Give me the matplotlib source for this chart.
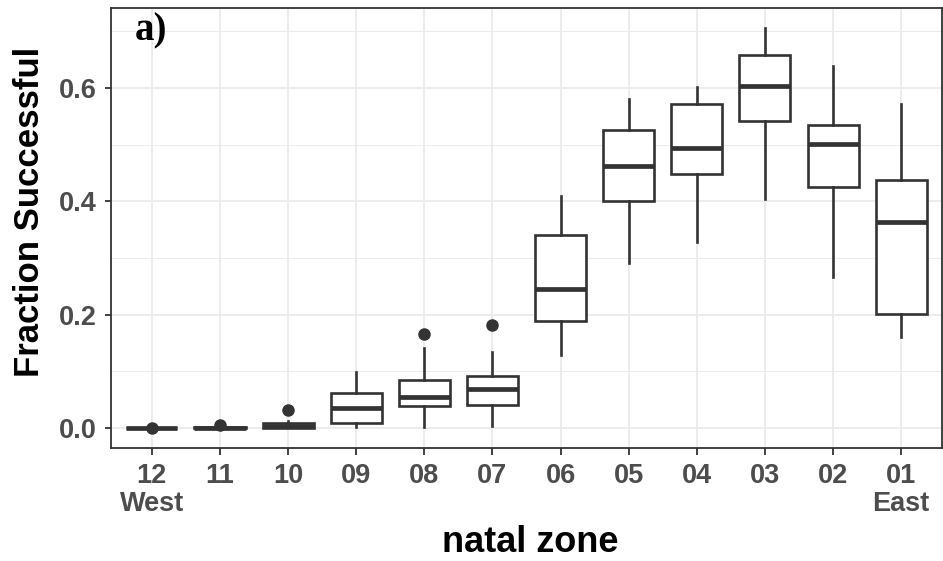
import numpy as np
import matplotlib
matplotlib.use("Agg")
import matplotlib.pyplot as plt
from matplotlib.ticker import MultipleLocator, FormatStrFormatter

# box statistics, west -> east
zones = ["12\nWest", "11", "10", "09", "08", "07", "06", "05", "04", "03", "02", "01\nEast"]
whis_lo = [0.000, 0.000, 0.000, 0.001, 0.001, 0.004, 0.129, 0.291, 0.328, 0.404, 0.267, 0.160]
q1 = [0.000, 0.000, 0.000, 0.009, 0.039, 0.040, 0.189, 0.400, 0.448, 0.542, 0.426, 0.202]
med = [0.000, 0.000, 0.004, 0.036, 0.055, 0.069, 0.246, 0.462, 0.494, 0.603, 0.501, 0.363]
q3 = [0.000, 0.002, 0.009, 0.061, 0.085, 0.092, 0.340, 0.526, 0.571, 0.658, 0.535, 0.437]
whis_hi = [0.000, 0.003, 0.013, 0.099, 0.142, 0.134, 0.410, 0.581, 0.602, 0.705, 0.639, 0.571]
outliers = [[0.0], [0.006], [0.032], [], [0.165], [0.182], [], [], [], [], [], []]

DARK = "#333333"
GRID = "#EBEBEB"
TICK = "#4D4D4D"

plt.rcParams["font.family"] = ["Liberation Sans", "DejaVu Sans"]

fig = plt.figure(figsize=(9.43, 5.61), dpi=100)
ax = fig.add_axes([0.1177, 0.2014, 0.8813, 0.7843])

stats = []
for i in range(len(zones)):
    stats.append({"whislo": whis_lo[i], "q1": q1[i], "med": med[i], "q3": q3[i],
                  "whishi": whis_hi[i], "fliers": outliers[i]})

pos = np.arange(1, len(zones) + 1)
ax.bxp(stats, positions=pos, widths=0.75, showcaps=False, patch_artist=True,
       boxprops=dict(facecolor="white", edgecolor=DARK, linewidth=1.9),
       medianprops=dict(color=DARK, linewidth=3.4, solid_capstyle="butt"),
       whiskerprops=dict(color=DARK, linewidth=1.9),
       flierprops=dict(marker="o", markerfacecolor=DARK, markeredgecolor=DARK,
                       markersize=8, linestyle="none"),
       zorder=3)

ax.set_xlim(0.4, len(zones) + 0.6)
ax.set_ylim(-0.0353, 0.741)
ax.set_xticks(pos)
ax.set_xticklabels(zones, fontsize=19.5, fontweight="bold", color=TICK, linespacing=1.1)
ax.yaxis.set_major_locator(MultipleLocator(0.2))
ax.yaxis.set_minor_locator(MultipleLocator(0.1))
ax.yaxis.set_major_formatter(FormatStrFormatter("%.1f"))
for lab in ax.get_yticklabels():
    lab.set_fontsize(19.5)
    lab.set_fontweight("bold")
    lab.set_color(TICK)

ax.grid(True, which="major", color=GRID, linewidth=1.3, zorder=0)
ax.grid(True, which="minor", axis="y", color=GRID, linewidth=0.7, zorder=0)
ax.set_axisbelow(True)
ax.tick_params(axis="y", which="major", length=4.5, width=1.3, color=DARK, pad=5.5)
ax.tick_params(axis="x", which="major", length=5, width=1.3, color=DARK, pad=5.5)
ax.tick_params(axis="y", which="minor", length=0)
for sp in ax.spines.values():
    sp.set_color(DARK)
    sp.set_linewidth(1.3)

ax.set_xlabel("natal zone", fontsize=26, fontweight="bold")
ax.set_ylabel("Fraction Successful", fontsize=25, fontweight="bold")
ax.xaxis.set_label_coords(0.505, -0.175)
ax.yaxis.set_label_coords(-0.078, 0.536)

ax.text(0.029, 0.927, "a)", transform=ax.transAxes, fontsize=28, fontweight="bold",
        family=["Liberation Serif", "DejaVu Serif"], va="baseline", ha="left")

fig.savefig("out.png", dpi=100)
